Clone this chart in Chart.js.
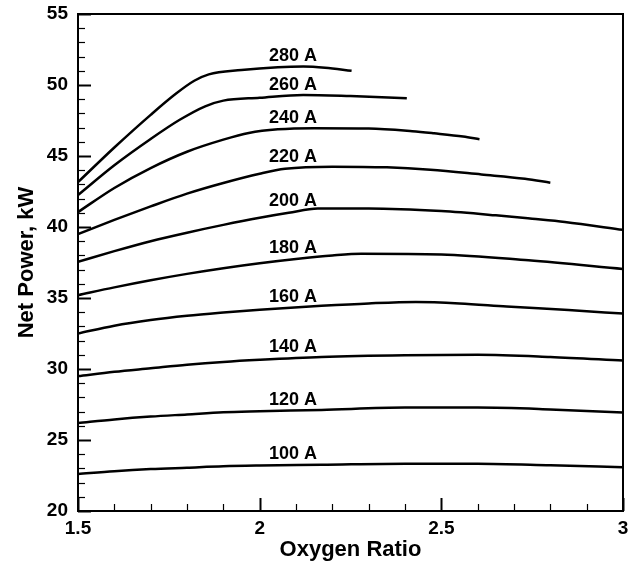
<!DOCTYPE html>
<html><head><meta charset="utf-8">
<script src="https://cdn.jsdelivr.net/npm/chart.js@4.4.1/dist/chart.umd.min.js"></script>
<style>html,body{margin:0;padding:0;background:#fff}canvas{display:block}</style>
</head><body>
<canvas id="c" width="637" height="565"></canvas>
<script>
// ---- data ----
const seriesLabels = ['100 A','120 A','140 A','160 A','180 A','200 A','220 A','240 A','260 A','280 A'];

const x100 = [1.5,1.6,1.7,1.8,1.9,2.0,2.17,2.4,2.6,2.8,3.0];
const y100 = [22.6,22.8,22.95,23.05,23.15,23.2,23.25,23.33,23.33,23.22,23.08];

const x120 = [1.5,1.6,1.7,1.8,1.9,2.0,2.17,2.4,2.6,2.8,3.0];
const y120 = [26.2,26.45,26.65,26.8,26.95,27.02,27.12,27.28,27.28,27.15,26.93];

const x140 = [1.5,1.6,1.7,1.8,1.9,2.0,2.17,2.4,2.6,2.8,3.0];
const y140 = [29.5,29.8,30.05,30.3,30.5,30.65,30.85,30.97,31.0,30.85,30.6];

const x160 = [1.5,1.6,1.7,1.8,1.9,2.0,2.17,2.3,2.43,2.55,2.68,2.85,3.0];
const y160 = [32.5,33.05,33.45,33.75,33.98,34.18,34.45,34.62,34.72,34.62,34.4,34.15,33.9];

const x180 = [1.5,1.6,1.7,1.8,1.9,2.0,2.1,2.2,2.28,2.5,2.74,3.0];
const y180 = [35.2,35.75,36.25,36.7,37.1,37.45,37.75,38.0,38.12,38.07,37.65,37.05];

const x200 = [1.5,1.6,1.7,1.8,1.9,2.0,2.08,2.16,2.3,2.5,2.65,2.75,2.84,3.0];
const y200 = [37.55,38.3,39.0,39.6,40.15,40.65,41.0,41.3,41.3,41.12,40.82,40.58,40.35,39.8];

const x220 = [1.5,1.6,1.7,1.8,1.9,2.0,2.07,2.2,2.35,2.47,2.61,2.73,2.8];
const y220 = [39.5,40.5,41.45,42.35,43.1,43.75,44.1,44.25,44.2,44.03,43.7,43.4,43.12];

const x240 = [1.5,1.6,1.7,1.8,1.9,1.97,2.05,2.15,2.3,2.42,2.48,2.56,2.605];
const y240 = [41.05,42.75,44.15,45.3,46.15,46.62,46.88,46.96,46.94,46.75,46.6,46.37,46.18];

const x260 = [1.5,1.6,1.7,1.78,1.85,1.9,2.0,2.12,2.25,2.405];
const y260 = [42.25,44.35,46.2,47.55,48.5,48.9,49.1,49.3,49.22,49.07];

const x280 = [1.5,1.6,1.7,1.77,1.82,1.86,1.95,2.05,2.12,2.18,2.253];
const y280 = [43.16,45.6,47.9,49.4,50.3,50.75,51.05,51.25,51.3,51.22,51.0];

const xTickValues = [1.5, 2, 2.5, 3];
const yTickValues = [20, 25, 30, 35, 40, 45, 50, 55];
const labelAtX = 2.092;

const xs = [x100,x120,x140,x160,x180,x200,x220,x240,x260,x280];
const ys = [y100,y120,y140,y160,y180,y200,y220,y240,y260,y280];

const FONT = "'Liberation Sans', Arial, Helvetica, sans-serif";

const datasets = seriesLabels.map((lab, i) => ({
  label: lab,
  data: xs[i].map((x, j) => ({x, y: ys[i][j]})),
  borderColor: '#000',
  borderWidth: 2.5,
  pointRadius: 0,
  fill: false,
  cubicInterpolationMode: 'monotone'
}));

function interp(xa, ya, x) {
  for (let j = 0; j < xa.length - 1; j++) {
    if (x >= xa[j] && x <= xa[j+1]) {
      const t = (x - xa[j]) / (xa[j+1] - xa[j]);
      return ya[j] + t * (ya[j+1] - ya[j]);
    }
  }
  return ya[ya.length - 1];
}

const framePlugin = {
  id: 'frameTicks',
  afterDraw(chart) {
    const {ctx, chartArea: a, scales: {x, y}} = chart;
    ctx.save();
    ctx.strokeStyle = '#000';
    for (let i = 15; i <= 30; i++) {
      const major = i % 5 === 0;
      const px = Math.round(x.getPixelForValue(i / 10)) + 0.5;
      ctx.lineWidth = major ? 2 : 1.2;
      ctx.beginPath();
      ctx.moveTo(px, a.bottom);
      ctx.lineTo(px, a.bottom - (major ? 13 : 7));
      ctx.stroke();
    }
    for (let i = 20; i <= 55; i++) {
      const major = i % 5 === 0;
      const py = Math.round(y.getPixelForValue(i)) + 0.5;
      ctx.lineWidth = major ? 2 : 1.2;
      ctx.beginPath();
      ctx.moveTo(a.left, py);
      ctx.lineTo(a.left + (major ? 13 : 7), py);
      ctx.stroke();
    }
    ctx.lineWidth = 2;
    ctx.strokeRect(a.left, a.top, a.right - a.left, a.bottom - a.top);
    ctx.restore();
  },
  afterDatasetsDraw(chart) {
    const {ctx, scales: {x, y}} = chart;
    ctx.save();
    ctx.fillStyle = '#000';
    ctx.font = "bold 18px " + FONT;
    ctx.textAlign = 'center';
    ctx.textBaseline = 'middle';
    seriesLabels.forEach((lab, i) => {
      const v = interp(xs[i], ys[i], labelAtX);
      ctx.fillText(lab, x.getPixelForValue(labelAtX), y.getPixelForValue(v) - 11);
    });
    ctx.restore();
  }
};

new Chart(document.getElementById('c'), {
  type: 'line',
  data: { datasets },
  plugins: [framePlugin],
  options: {
    responsive: false,
    devicePixelRatio: 1,
    animation: false,
    layout: { padding: { top: 14, right: 14, left: 0, bottom: 0 } },
    plugins: { legend: { display: false }, tooltip: { enabled: false } },
    scales: {
      x: {
        type: 'linear', min: 1.5, max: 3,
        afterBuildTicks(s) { s.ticks = xTickValues.map(v => ({value: v})); },
        afterFit(s) { s.height = 54; s.paddingLeft = 0; s.paddingRight = 0; },
        grid: { display: false, drawTicks: false },
        border: { display: false },
        ticks: { color: '#000', padding: 6, maxRotation: 0, callback: v => String(v),
                 font: { family: FONT, size: 19, weight: 'bold' } },
        title: { display: true, text: 'Oxygen Ratio', color: '#000', padding: { top: 0, bottom: 2 },
                 font: { family: FONT, size: 22, weight: 'bold' } }
      },
      y: {
        type: 'linear', min: 20, max: 55,
        afterBuildTicks(s) { s.ticks = yTickValues.map(v => ({value: v})); },
        afterFit(s) { s.width = 78; s.paddingTop = 0; s.paddingBottom = 0; },
        grid: { display: false, drawTicks: false },
        border: { display: false },
        ticks: { color: '#000', padding: 10, callback: v => String(v),
                 font: { family: FONT, size: 19, weight: 'bold' } },
        title: { display: true, text: 'Net Power, kW', color: '#000', padding: { top: 14, bottom: 0 },
                 font: { family: FONT, size: 22, weight: 'bold' } }
      }
    }
  }
});
</script>
</body></html>
